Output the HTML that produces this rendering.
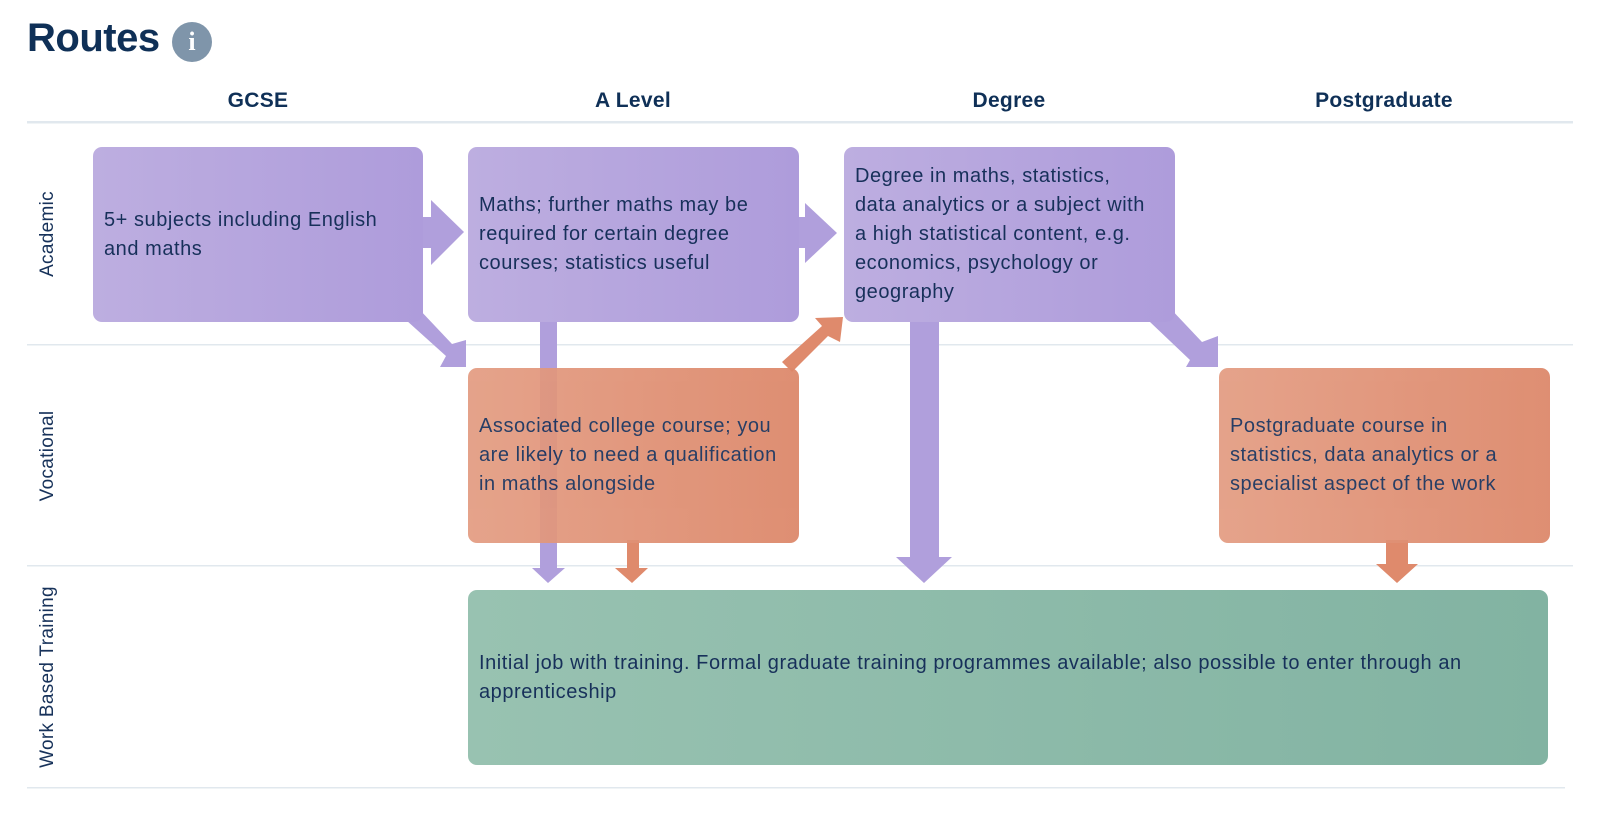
<!DOCTYPE html>
<html><head><meta charset="utf-8"><style>
html,body{margin:0;padding:0;background:#fff;}
body{width:1600px;height:814px;position:relative;overflow:hidden;font-family:"Liberation Sans",Arial,sans-serif;color:#17325a;}
.t{position:absolute;left:27px;top:16px;font-size:40px;font-weight:bold;color:#0f3057;letter-spacing:-0.5px;}
.info{position:absolute;left:172px;top:22px;width:40px;height:40px;border-radius:50%;background:#7f95aa;color:#fff;font-family:"Liberation Serif",serif;font-weight:bold;font-size:26px;text-align:center;line-height:40px;}
.h{position:absolute;top:89px;font-size:21px;font-weight:bold;color:#0f3057;transform:translateX(-50%);white-space:nowrap;letter-spacing:0.3px;}
.r{position:absolute;left:48px;font-size:19px;color:#17325a;white-space:nowrap;transform:translate(-50%,-50%) rotate(-90deg);letter-spacing:0.3px;}
.b{position:absolute;border-radius:9px;display:flex;align-items:center;padding:0 11px;box-sizing:border-box;font-size:20px;letter-spacing:0.55px;line-height:29px;white-space:nowrap;color:#17305a;}
.p{background:linear-gradient(90deg,#bdaee0,#ae9cdb);}
.o{background:linear-gradient(90deg,#e39c82,#dc8668);opacity:.93;}
.g{background:linear-gradient(90deg,#98c2b1,#82b3a2);}
svg{position:absolute;left:0;top:0;}
</style></head><body>
<div class="t">Routes</div><div class="info">i</div>
<div class="h" style="left:258px">GCSE</div>
<div class="h" style="left:633px">A Level</div>
<div class="h" style="left:1009px">Degree</div>
<div class="h" style="left:1384px">Postgraduate</div>
<svg width="1600" height="814">
<g fill="#e1e8ee">
<rect x="27" y="121" width="1546" height="2.5"/>
<rect x="27" y="344" width="1546" height="1.5"/>
<rect x="27" y="565" width="1546" height="1.5"/>
<rect x="27" y="787" width="1538" height="1.5"/>
</g>
<g fill="#b09fdc">
<polygon points="420,217 431,217 431,200 464,232 431,265 431,248 420,248"/>
<polygon points="795,217 805,217 805,203 837,233 805,263 805,248 795,248"/>
<polygon points="406,320 418,308 452,344 466,340 466,367 440,367 446,356"/>
<polygon points="540,318 557,318 557,568 565,568 548,583 532,568 540,568"/>
<polygon points="910,318 939,318 939,557 952,557 924,583 896,557 910,557"/>
<polygon points="1150,322 1168,306 1202,342 1218,336 1218,367 1186,367 1190,360"/>
</g>
<g fill="#df8a6c">
<polygon points="627,540 639,540 639,568 648,568 632,583 615,568 627,568"/>
<polygon points="1386,540 1408,540 1408,564 1418,564 1397,583 1376,564 1386,564"/>
<polygon points="782,362 792,372 828,336 840,342 843,317 815,318 822,326"/>
</g>
</svg>
<div class="b p" style="left:93px;top:147px;width:330px;height:175px">5+ subjects including English<br>and maths</div>
<div class="b p" style="left:468px;top:147px;width:331px;height:175px">Maths; further maths may be<br>required for certain degree<br>courses; statistics useful</div>
<div class="b p" style="left:844px;top:147px;width:331px;height:175px">Degree in maths, statistics,<br>data analytics or a subject with<br>a high statistical content, e.g.<br>economics, psychology or<br>geography</div>
<div class="b o" style="left:468px;top:368px;width:331px;height:175px">Associated college course; you<br>are likely to need a qualification<br>in maths alongside</div>
<div class="b o" style="left:1219px;top:368px;width:331px;height:175px">Postgraduate course in<br>statistics, data analytics or a<br>specialist aspect of the work</div>
<div class="b g" style="left:468px;top:590px;width:1080px;height:175px">Initial job with training. Formal graduate training programmes available; also possible to enter through an<br>apprenticeship</div>
<div class="r" style="top:234px">Academic</div>
<div class="r" style="top:456px">Vocational</div>
<div class="r" style="top:677px">Work Based Training</div>
</body></html>
